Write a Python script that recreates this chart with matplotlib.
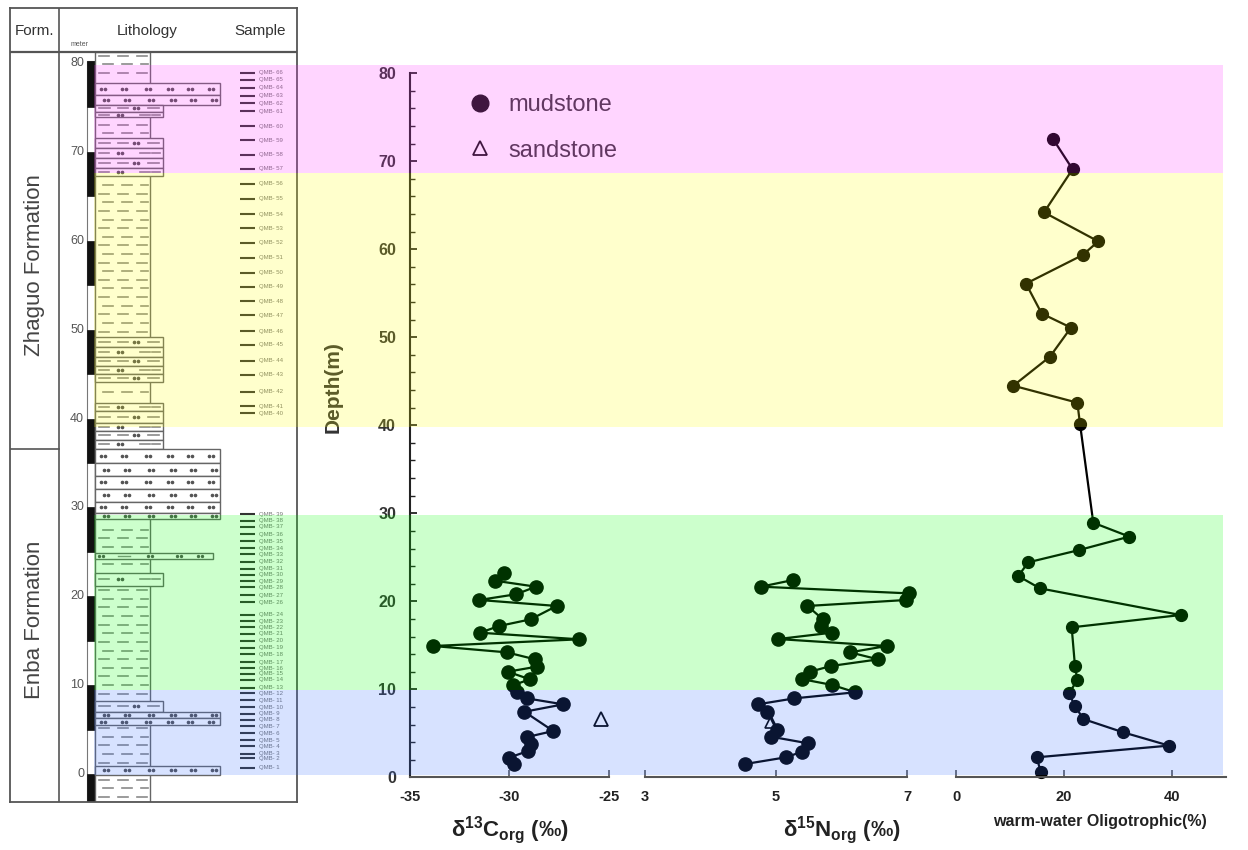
import matplotlib
matplotlib.use("Agg")
import matplotlib.pyplot as plt
import numpy as np
from matplotlib.patches import Rectangle
from matplotlib.lines import Line2D

plt.rcParams['font.family'] = ['Liberation Sans', 'DejaVu Sans']
plt.rcParams['mathtext.fontset'] = 'custom'
plt.rcParams['mathtext.rm'] = 'Liberation Sans:bold'
plt.rcParams['mathtext.it'] = 'Liberation Sans:bold'
plt.rcParams['mathtext.bf'] = 'Liberation Sans:bold'
plt.rcParams['axes.unicode_minus'] = False

W, H = 1248, 850

# ---------------- data ----------------
# d13C (mudstone)
c13_depth = [1.48, 2.23, 2.99, 3.75, 4.58, 5.26, 7.45, 8.29, 8.97, 9.66, 10.49, 11.13,
             12.0, 12.57, 13.4, 14.2, 14.92, 15.68, 16.43, 17.19, 17.95, 19.47, 20.15,
             20.8, 21.66, 22.34, 23.25]
c13 = [-29.77, -30.03, -29.06, -28.94, -29.11, -27.8, -29.25, -27.3, -29.13, -29.6, -29.8,
       -28.97, -30.09, -28.63, -28.7, -30.14, -33.83, -26.49, -31.48, -30.53, -28.94,
       -27.63, -31.52, -29.67, -28.67, -30.73, -30.3]
c13_sand_depth = [6.62]
c13_sand = [-25.42]

# d15N (mudstone)
n15_depth = [1.51, 2.27, 2.91, 3.86, 4.62, 5.38, 7.46, 8.29, 8.97, 9.66, 10.49, 11.15,
             12.0, 12.65, 13.4, 14.2, 14.92, 15.71, 16.43, 17.23, 17.99, 19.47, 20.15,
             20.9, 21.66, 22.42]
n15 = [4.53, 5.15, 5.40, 5.49, 4.92, 5.01, 4.87, 4.72, 5.28, 6.21, 5.86, 5.40, 5.52, 5.84,
       6.56, 6.13, 6.69, 5.03, 5.85, 5.69, 5.71, 5.48, 6.99, 7.03, 4.77, 5.26]
n15_sand_depth = [6.3]
n15_sand = [4.93]

# warm-water oligotrophic (%)
oligo_depth = [0.64, 2.27, 3.6, 5.11, 6.62, 8.1, 9.54, 11.06, 12.65, 17.04, 18.44, 21.47,
               22.87, 24.43, 25.83, 27.35, 28.93, 40.2, 42.57, 44.5, 47.8, 51.1, 52.7,
               56.1, 59.35, 60.9, 64.2, 69.1, 72.5]
oligo = [15.67, 14.93, 39.5, 31.0, 23.6, 22.04, 20.93, 22.48, 22.04, 21.43, 41.67, 15.54,
         11.51, 13.37, 22.84, 32.13, 25.44, 22.97, 22.48, 10.59, 17.4, 21.3, 15.86, 12.94,
         23.47, 26.37, 16.29, 21.6, 18.0]

# coloured intervals (depth, m)
band_top = [80.9, 68.7, 29.8, 9.9]
band_base = [68.7, 39.8, 9.9, 0.26]
band_color = ['#ff2dff', '#ffff00', '#00ff00', '#376eff']

# lithology column
layer_top = [77.7, 76.4, 75.3, 74.5, 71.6, 70.4, 69.3, 68.2,
             49.2, 48.1, 46.95, 45.9, 45.0,
             41.8, 40.8, 39.5, 38.6, 37.6,
             36.6, 35.0, 33.5, 32.1, 30.6, 29.4,
             24.83, 22.65, 8.25, 7.0, 6.25, 0.9]
layer_base = [76.4, 75.3, 74.5, 73.9, 70.4, 69.3, 68.2, 67.3,
              48.1, 46.95, 45.9, 45.0, 44.1,
              40.8, 39.5, 38.6, 37.6, 36.6,
              35.0, 33.5, 32.1, 30.6, 29.4, 28.65,
              24.16, 21.15, 7.0, 6.25, 5.5, -0.1]
layer_kind = ['sand', 'sand', 'silt', 'silt', 'silt', 'silt', 'silt', 'silt',
              'silt', 'silt', 'silt', 'silt', 'silt',
              'silt', 'silt', 'silt', 'silt', 'silt',
              'sand', 'sand', 'sand', 'sand', 'sand', 'sand',
              'thin', 'silt', 'silt', 'sand', 'sand', 'sand']
scale_black_base = [75, 65, 55, 45, 35, 25, 15, 5, -3.15]
scale_black_top = [80.2, 70, 60, 50, 40, 30, 20, 10, 0]
litho_ticks = [0, 10, 20, 30, 40, 50, 60, 70, 80]

sample_no = [66, 65, 64, 63, 62, 61, 60, 59, 58, 57, 56, 55, 54, 53, 52, 51, 50, 49, 48, 47,
             46, 45, 44, 43, 42, 41, 40, 39, 38, 37, 36, 35, 34, 33, 32, 31, 30, 29, 28, 27,
             26, 24, 23, 22, 21, 20, 19, 18, 17, 16, 15, 14, 13, 12, 11, 10, 9, 8, 7, 6, 5,
             4, 3, 2, 1]
sample_depth = [78.9, 78.1, 77.2, 76.3, 75.5, 74.6, 72.9, 71.3, 69.7, 68.1, 66.4, 64.7, 63.0,
                61.4, 59.8, 58.1, 56.4, 54.8, 53.2, 51.6, 49.8, 48.3, 46.5, 44.9, 43.0, 41.4,
                40.6, 29.2, 28.5, 27.8, 27.0, 26.2, 25.4, 24.7, 23.9, 23.1, 22.4, 21.7, 21.0,
                20.1, 19.3, 17.9, 17.2, 16.5, 15.8, 15.0, 14.2, 13.5, 12.6, 11.9, 11.3, 10.6,
                9.7, 9.1, 8.3, 7.5, 6.8, 6.1, 5.4, 4.6, 3.8, 3.1, 2.3, 1.8, 0.7]


def box(x0, y0, x1, y1):
    return [x0 / W, 1 - y1 / H, (x1 - x0) / W, (y1 - y0) / H]


fig = plt.figure(figsize=(W / 100, H / 100), dpi=100)

# ---------------- lithology panel ----------------
lax = fig.add_axes(box(10, 8, 297, 802))
lax.set_xlim(10, 297)
lax.set_ylim(-3.15, 86.19)
lax.set_xticks([])
lax.set_yticks([])
for s in lax.spines.values():
    s.set_color('#555')
    s.set_linewidth(1.3)
lc = '#666'
head = 81.24
lax.axhline(head, color='#555', lw=1.6)
lax.plot([59, 59], [-3.15, 86.19], color='#555', lw=1.2)
lax.plot([10, 59], [36.6, 36.6], color='#555', lw=1.2)
lax.text(34, 83.6, 'Form.', ha='center', va='center', fontsize=11, color='#333')
lax.text(147, 83.6, 'Lithology', ha='center', va='center', fontsize=11, color='#333')
lax.text(260, 83.6, 'Sample', ha='center', va='center', fontsize=11, color='#333')
lax.text(80, 82.1, 'meter', ha='center', va='center', fontsize=5, color='#555')
lax.text(35, 57.3, 'Zhaguo Formation', rotation=90, ha='center', va='center',
         fontsize=16, color='#444')
lax.text(35, 17.3, 'Enba Formation', rotation=90, ha='center', va='center',
         fontsize=16, color='#444')

# scale bar
lax.add_patch(Rectangle((87, -3.15), 8, 80.2 + 3.15, fc='white', ec='#777', lw=0.8))
for lo, hi in zip(scale_black_base, scale_black_top):
    lax.add_patch(Rectangle((87, lo), 8, hi - lo, fc='#111', ec='#111', lw=0.5))
for t in litho_ticks:
    lax.text(84, t, str(t), ha='right', va='center', fontsize=9, color='#555')

# mud column
lax.add_patch(Rectangle((95, -3.15), 55, head + 3.15, fc='white', ec=lc, lw=1.0))
rows = np.arange(-2.6, head - 0.4, 0.97)
for i, r in enumerate(rows):
    inside = any(b - 0.25 < r < t + 0.25 for t, b in zip(layer_top, layer_base))
    if inside:
        continue
    off = 4 if i % 2 else 0
    for x0 in (99, 118, 137):
        lax.plot([x0 + off, min(x0 + off + 10, 148)], [r, r], color='#8a8a8a', lw=1.2)

kind_right = {'sand': 220, 'silt': 163, 'thin': 213}
for i, (t, b, k) in enumerate(zip(layer_top, layer_base, layer_kind)):
    lax.add_patch(Rectangle((95, b), kind_right[k] - 95, t - b, fc='white', ec=lc, lw=1.0))
    m = (t + b) / 2
    if k == 'sand':
        off = 3 if i % 2 else 0
        for x0 in (101, 122, 146, 168, 188, 209):
            lax.plot([x0 + off, x0 + off + 3.5], [m, m], ls='none', marker='o', ms=1.6,
                     color='#555')
    elif k == 'silt':
        if i % 2:
            dashes, dots = [(99, 109), (140, 150), (152, 160)], [118, 122]
        else:
            dashes, dots = [(99, 110), (118, 128), (148, 159)], [134, 138]
        for x0, x1 in dashes:
            lax.plot([x0, x1], [m, m], color='#8a8a8a', lw=1.2)
        lax.plot(dots, [m, m], ls='none', marker='o', ms=1.6, color='#555')
    else:
        lax.plot([99, 103, 148, 152, 177, 181, 198, 202], [m] * 8, ls='none',
                 marker='o', ms=1.4, color='#555')
        lax.plot([118, 130], [m, m], color='#8a8a8a', lw=1.0)

# samples
lax.hlines(sample_depth, 240, 255, color='#333', lw=1.5)
for n, d in zip(sample_no, sample_depth):
    lax.text(259, d, 'QMB- %d' % n, ha='left', va='center', fontsize=4.3, color='#777')

# ---------------- geochemistry panels ----------------
y0, y1 = 73.3, 777.3
ax_c = fig.add_axes(box(410, y0, 609, y1))
ax_n = fig.add_axes(box(645, y0, 907, y1), sharey=ax_c)
ax_o = fig.add_axes(box(956.3, y0, 1225.5, y1), sharey=ax_c)
ax_c.set_ylim(0, 80)
ax_c.set_xlim(-35, -25)
ax_n.set_xlim(3, 7)
ax_o.set_xlim(0, 50)

ax_c.set_xticks([-35, -30, -25])
ax_n.set_xticks([3, 5, 7])
ax_o.set_xticks([0, 20, 40])
for ax in (ax_c, ax_n, ax_o):
    ax.set_facecolor('none')
    ax.spines['top'].set_visible(False)
    ax.spines['right'].set_visible(False)
    ax.spines['bottom'].set_color('#555')
    ax.spines['bottom'].set_linewidth(1.5)
    ax.tick_params(axis='x', direction='in', length=5, width=1.2, color='#555', pad=9,
                   labelsize=10.5, labelcolor='#222')
    for lab in ax.get_xticklabels():
        lab.set_fontweight('bold')
for ax in (ax_n, ax_o):
    ax.spines['left'].set_visible(False)
    ax.tick_params(axis='y', which='both', left=False, labelleft=False)

ax_c.spines['left'].set_color('#222')
ax_c.spines['left'].set_linewidth(1.5)
ax_c.set_yticks([0, 10, 20, 30, 40, 50, 60, 70, 80])
ax_c.set_yticks(np.arange(0, 81, 2), minor=True)
ax_c.tick_params(axis='y', which='major', direction='in', length=5, width=1.3,
                 color='#222', pad=10, labelsize=11.5, labelcolor='#333')
ax_c.tick_params(axis='y', which='minor', direction='in', length=3.5, width=1.0,
                 color='#222')
for lab in ax_c.get_yticklabels():
    lab.set_fontweight('bold')
ax_c.set_ylabel('Depth(m)', fontsize=15, fontweight='bold', color='#333')
ax_c.yaxis.set_label_coords(-0.34, 0.555)

ax_c.set_xlabel(r'δ$^{13}$C$_{org}$ (‰)', fontsize=16, fontweight='bold', color='#222')
ax_c.xaxis.set_label_coords(0.5, -0.052)
ax_n.set_xlabel(r'δ$^{15}$N$_{org}$ (‰)', fontsize=16, fontweight='bold', color='#222')
ax_n.xaxis.set_label_coords(0.75, -0.052)
ax_o.set_xlabel('warm-water Oligotrophic(%)', fontsize=11.5, fontweight='bold',
                color='#222')
ax_o.xaxis.set_label_coords(0.535, -0.052)

ax_c.plot(c13, c13_depth, '-o', color='k', ms=9.5, lw=1.6)
ax_c.plot(c13_sand, c13_sand_depth, '^', mfc='none', mec='k', ms=10, mew=1.3)
ax_n.plot(n15, n15_depth, '-o', color='k', ms=9.5, lw=1.6, clip_on=False)
ax_n.plot(n15_sand, n15_sand_depth, '^', mfc='none', mec='k', ms=9, mew=1.2)
ax_o.plot(oligo, oligo_depth, '-o', color='k', ms=8.5, lw=1.6, clip_on=False)

handles = [Line2D([], [], marker='o', ls='none', color='#111', ms=12, label='mudstone'),
           Line2D([], [], marker='^', ls='none', mfc='none', mec='#111', mew=1.3, ms=10,
                  label='sandstone')]
leg = ax_c.legend(handles=handles, loc='upper left', bbox_to_anchor=(468 / W, 1 - 94 / H),
                  bbox_transform=fig.transFigure, frameon=False, fontsize=17,
                  handlelength=1.0, handletextpad=0.7, labelspacing=1.0,
                  borderpad=0, borderaxespad=0)
for t in leg.get_texts():
    t.set_color('#3a3a3a')

# ---------------- coloured intervals on top ----------------
ov = fig.add_axes(box(94, y0, 1223, y1))
ov.set_xlim(0, 1)
ov.set_ylim(0, 80)
ov.axis('off')
ov.set_zorder(10)
for hi, lo, c in zip(band_top, band_base, band_color):
    ov.axhspan(lo, hi, color=c, alpha=0.2, lw=0, clip_on=False)

fig.savefig('out.png', dpi=100)
